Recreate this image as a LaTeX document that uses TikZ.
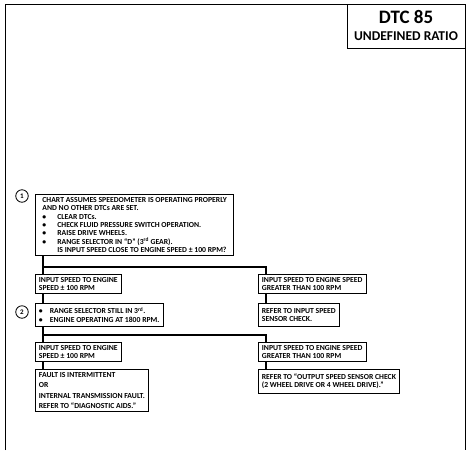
\documentclass[tikz,border=0pt]{standalone}
\usepackage{fontspec}
\setmainfont{Carlito}
\usetikzlibrary{positioning}

\tikzset{
  chartbox/.style={draw, line width=0.8pt, anchor=north west, align=left,
    inner xsep=3.5pt, inner ysep=2.8pt, font=\bfseries\fontsize{7.7}{8.4}\selectfont},
  link/.style={line width=1.6pt},
  stepmark/.style={draw, circle, line width=0.8pt, minimum size=12.5pt, inner sep=0pt,
    font=\bfseries\fontsize{7}{8}\selectfont},
}
\newcommand{\bul}[1][15pt]{\makebox[#1][l]{\textbullet}}

\begin{document}
\begin{tikzpicture}[x=1pt,y=-1pt]
    \useasboundingbox (0,0) rectangle (473,450);
    % page frame and title block
    \draw[line width=0.8pt] (5,450) -- (5,4) -- (465,4) -- (465,450);
    \draw[line width=0.8pt] (347,4) -- (347,48) -- (465,48);
    \node[font=\bfseries\fontsize{19}{20}\selectfont] (dtc) at (406,17) {DTC 85};
    \node[font=\bfseries\fontsize{13.5}{14}\selectfont] (dtcname) at (406,36) {UNDEFINED RATIO};

    % step 1
    \node[stepmark] (n1) at (22,196) {1};
    \node[chartbox, inner xsep=7pt] (chk1) at (35,194) {CHART ASSUMES SPEEDOMETER IS OPERATING PROPERLY\\
      AND NO OTHER DTCs ARE SET.\\
      \bul CLEAR DTCs.\\
      \bul CHECK FLUID PRESSURE SWITCH OPERATION.\\
      \bul RAISE DRIVE WHEELS.\\
      \bul RANGE SELECTOR IN ``D'' (3\textsuperscript{rd} GEAR).\\
      \hspace*{15pt}IS INPUT SPEED CLOSE TO ENGINE SPEED ± 100 RPM?};
    \node[chartbox] (l1) at (35,274) {INPUT SPEED TO ENGINE\\SPEED ± 100 RPM};
    \node[chartbox] (r1) at (258,274) {INPUT SPEED TO ENGINE SPEED\\GREATER THAN 100 RPM};

    % step 2
    \node[stepmark] (n2) at (22,312) {2};
    \node[chartbox, minimum height=23pt] (chk2) at (35,303) {\bul[11pt]RANGE SELECTOR STILL IN 3\textsuperscript{rd}.\\
      \bul[11pt]ENGINE OPERATING AT 1800 RPM.};
    \node[chartbox, minimum height=23pt] (r2) at (258,303) {REFER TO INPUT SPEED\\SENSOR CHECK.};
    \node[chartbox] (l3) at (35,342) {INPUT SPEED TO ENGINE\\SPEED ± 100 RPM};
    \node[chartbox] (r3) at (258,342) {INPUT SPEED TO ENGINE SPEED\\GREATER THAN 100 RPM};
    \node[chartbox] (l4) at (35,369) {FAULT IS INTERMITTENT\\[2pt]OR\\[2pt]INTERNAL TRANSMISSION FAULT.\\[2pt]REFER TO ``DIAGNOSTIC AIDS.''};
    \node[chartbox, minimum height=24pt] (r4) at (258,369) {REFER TO ``OUTPUT SPEED SENSOR CHECK\\(2 WHEEL DRIVE OR 4 WHEEL DRIVE).''};

    % connectors
    \coordinate (j1) at (43,267);
    \coordinate (j2) at (43,335);
    \draw[link] ([xshift=8pt]chk1.south west) -- ([xshift=8pt]l1.north west);
    \draw[link] (j1) -| ([xshift=8pt]r1.north west);
    \draw[link] ([xshift=8pt]l1.south west) -- ([xshift=8pt]chk2.north west);
    \draw[link] ([xshift=8pt]r1.south west) -- ([xshift=8pt]r2.north west);
    \draw[link] ([xshift=8pt]chk2.south west) -- ([xshift=8pt]l3.north west);
    \draw[link] (j2) -| ([xshift=8pt]r3.north west);
    \draw[link] ([xshift=8pt]l3.south west) -- ([xshift=8pt]l4.north west);
    \draw[link] ([xshift=8pt]r3.south west) -- ([xshift=8pt]r4.north west);
\end{tikzpicture}
\end{document}
